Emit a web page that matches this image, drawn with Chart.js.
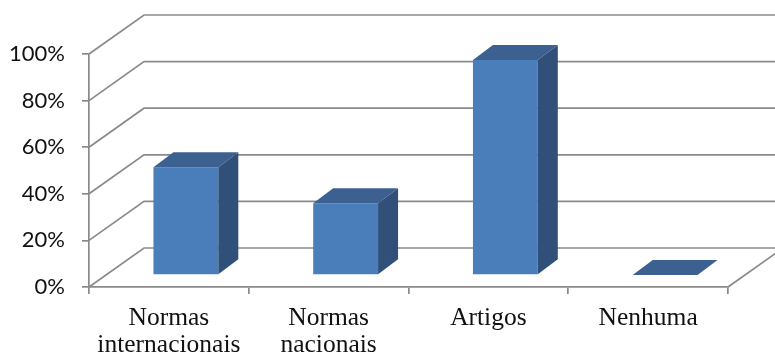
<!DOCTYPE html>
<html>
<head>
<meta charset="utf-8">
<script src="https://cdn.jsdelivr.net/npm/chart.js@4.4.1/dist/chart.umd.min.js"></script>
<style>
  html, body { margin: 0; padding: 0; background: #ffffff; }
  #wrap { width: 775px; height: 354px; }
</style>
</head>
<body>
<div id="wrap"><canvas id="c" width="775" height="354"></canvas></div>
<script>
// Categories and share of each answer (%)
const categories = [['Normas', 'internacionais'], ['Normas', 'nacionais'], 'Artigos', 'Nenhuma'];
const shares = [46.2, 30.8, 92.3, 0];
const yTicks = [0, 20, 40, 60, 80, 100];

const GRID = '#8a8a8a';
const FRONT = '#4a7ebb';
const TOP = '#3c6190';
const SIDE = '#30507a';

// depth of the floor/back wall, and of each column
const WALL_DX = 55, WALL_DY = -39;
const BAR_SHIFT_X = 17, BAR_SHIFT_Y = -12;
const BAR_DX = 20, BAR_DY = -15;

const wall3d = {
  id: 'wall3d',
  beforeDatasetsDraw(chart) {
    const { ctx, chartArea, scales } = chart;
    const y = scales.y;
    ctx.save();
    ctx.strokeStyle = GRID;
    ctx.lineWidth = 1.7;
    yTicks.forEach(v => {
      const py = y.getPixelForValue(v);
      ctx.beginPath();
      ctx.moveTo(chartArea.left, py);
      ctx.lineTo(chartArea.left + WALL_DX, py + WALL_DY);
      ctx.lineTo(chart.width + 20, py + WALL_DY);
      ctx.stroke();
    });
    // right edge of the floor
    const by = y.getPixelForValue(0);
    ctx.beginPath();
    ctx.moveTo(chartArea.right, by);
    ctx.lineTo(chartArea.right + WALL_DX, by + WALL_DY);
    ctx.stroke();
    ctx.restore();
    // columns sit a little behind the front plane
    ctx.save();
    ctx.translate(BAR_SHIFT_X, BAR_SHIFT_Y);
  },
  afterDatasetsDraw(chart) {
    const { ctx } = chart;
    const meta = chart.getDatasetMeta(0);
    meta.data.forEach(bar => {
      const p = bar.getProps(['x', 'y', 'base', 'width'], true);
      const l = p.x - p.width / 2, r = p.x + p.width / 2;
      // top face
      ctx.fillStyle = TOP;
      ctx.beginPath();
      ctx.moveTo(l, p.y);
      ctx.lineTo(l + BAR_DX, p.y + BAR_DY);
      ctx.lineTo(r + BAR_DX, p.y + BAR_DY);
      ctx.lineTo(r, p.y);
      ctx.closePath();
      ctx.fill();
      // side face
      if (p.base - p.y > 0.5) {
        ctx.fillStyle = SIDE;
        ctx.beginPath();
        ctx.moveTo(r, p.y);
        ctx.lineTo(r + BAR_DX, p.y + BAR_DY);
        ctx.lineTo(r + BAR_DX, p.base + BAR_DY);
        ctx.lineTo(r, p.base);
        ctx.closePath();
        ctx.fill();
      }
    });
    ctx.restore();
  }
};

new Chart(document.getElementById('c'), {
  type: 'bar',
  data: {
    labels: categories,
    datasets: [{
      data: shares,
      backgroundColor: FRONT,
      borderWidth: 0,
      categoryPercentage: 1,
      barPercentage: 0.406
    }]
  },
  options: {
    responsive: false,
    animation: false,
    devicePixelRatio: 1,
    layout: { padding: { top: 54, right: 47, left: 0, bottom: 0 } },
    plugins: { legend: { display: false }, tooltip: { enabled: false } },
    scales: {
      x: {
        afterFit(s) { s.height = 67; },
        grid: { drawOnChartArea: false, drawTicks: true, tickLength: 7, color: GRID, lineWidth: 1.7 },
        border: { color: GRID, width: 1.7 },
        ticks: {
          color: '#111111',
          padding: 11,
          maxRotation: 0,
          autoSkip: false,
          font: { family: '"Liberation Serif", "Times New Roman", serif', size: 25.5, lineHeight: 1.05 }
        }
      },
      y: {
        min: 0,
        max: 100,
        afterFit(s) { s.width = 89; },
        afterBuildTicks(s) { s.ticks = yTicks.map(v => ({ value: v })); },
        grid: { drawOnChartArea: false, drawTicks: true, tickLength: 7, color: GRID, lineWidth: 1.7 },
        border: { color: GRID, width: 1.7 },
        ticks: {
          color: '#111111',
          padding: 17,
          callback: v => v + '%',
          font: { family: 'Lato, "Open Sans", sans-serif', size: 22 }
        }
      }
    }
  },
  plugins: [wall3d]
});
</script>
</body>
</html>
